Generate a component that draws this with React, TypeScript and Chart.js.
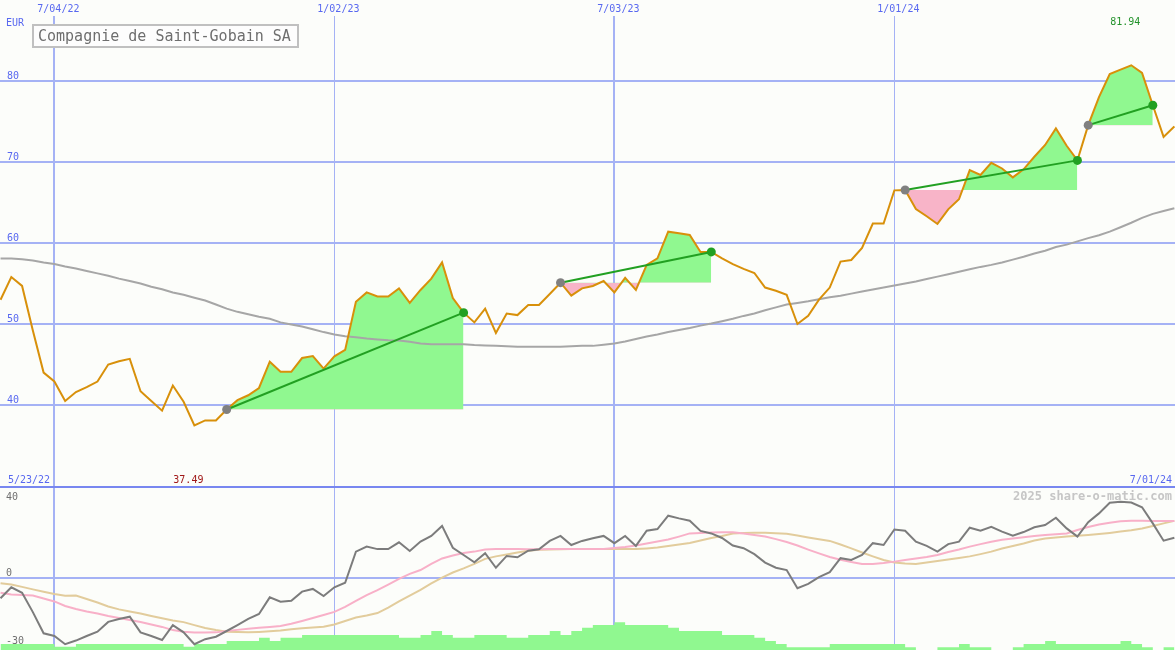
import React, { useEffect, useRef } from 'react';
import { Chart, registerables } from 'chart.js';

Chart.register(...registerables);

// ---------- data ----------
const xTickWeeks = [5, 31, 57, 83];
const xTickLabels = ['7/04/22', '1/02/23', '7/03/23', '1/01/24'];
const priceTicks = [40, 50, 60, 70, 80];
const oscTicks = [40, 0, -30];
const rangeStartLabel = '5/23/22';
const rangeEndLabel = '7/01/24';
const currencyLabel = 'EUR';
const titleText = 'Compagnie de Saint-Gobain SA';
const watermarkText = '2025 share-o-matic.com';
const trendStarts = [21, 52, 84, 101];
const trendEnds = [43, 66, 100, 107];

const price = [
  53.0, 55.8, 54.7, 49.2, 44.0, 42.9, 40.5, 41.6, 42.2, 42.9,
  45.0, 45.4, 45.7, 41.7, 40.5, 39.3, 42.4, 40.4, 37.49, 38.1,
  38.1, 39.45, 40.6, 41.2, 42.1, 45.35, 44.1, 44.1, 45.8, 46.05,
  44.5, 46.0, 46.8, 52.75, 53.9, 53.4, 53.4, 54.4, 52.6, 54.2,
  55.6, 57.6, 53.2, 51.4, 50.2, 51.9, 48.9, 51.3, 51.1, 52.35,
  52.35, 53.7, 55.1, 53.5, 54.4, 54.7, 55.3, 53.9, 55.7, 54.2,
  57.3, 58.1, 61.4, 61.2, 61.0, 58.9, 58.9, 58.1, 57.4, 56.8,
  56.3, 54.5, 54.1, 53.6, 50.0, 51.0, 53.0, 54.5, 57.7, 57.9,
  59.4, 62.4, 62.4, 66.5, 66.55, 64.2, 63.3, 62.35, 64.15, 65.4,
  69.0, 68.4, 69.9, 69.2, 68.1, 69.1, 70.65, 72.1, 74.15, 72.0,
  70.2, 74.55, 78.0, 80.85, 81.4, 81.94, 81.0, 77.0, 73.1, 74.4,
];

const longMA = [
  58.1, 58.1, 58.0, 57.85, 57.6, 57.4, 57.1, 56.85, 56.55, 56.25,
  55.95, 55.6, 55.3, 55.0, 54.6, 54.3, 53.9, 53.6, 53.25, 52.9,
  52.4, 51.9, 51.5, 51.2, 50.9, 50.65, 50.2, 49.95, 49.7, 49.35,
  49.0, 48.7, 48.5, 48.35, 48.2, 48.1, 48.0, 47.95, 47.8, 47.6,
  47.5, 47.5, 47.5, 47.5, 47.4, 47.35, 47.3, 47.25, 47.2, 47.2,
  47.2, 47.2, 47.2, 47.25, 47.3, 47.3, 47.45, 47.6, 47.85, 48.15,
  48.45, 48.7, 49.0, 49.25, 49.5, 49.8, 50.05, 50.35, 50.65, 51.0,
  51.3, 51.7, 52.05, 52.4, 52.6, 52.8, 53.05, 53.3, 53.5, 53.75,
  54.0, 54.25, 54.5, 54.75, 55.0, 55.25, 55.55, 55.85, 56.15, 56.45,
  56.75, 57.05, 57.3, 57.6, 57.95, 58.3, 58.7, 59.05, 59.5, 59.8,
  60.2, 60.6, 60.95, 61.4, 61.95, 62.5, 63.1, 63.6, 63.95, 64.3,
];

const momentum = [
  -8.9, -4.1, -6.5, -15, -24.3, -25.5, -29.1, -27.5, -25.5, -23.6,
  -19.3, -18.0, -17.0, -23.9, -25.5, -27.25, -20.7, -23.9, -29.1, -26.9,
  -25.8, -23.3, -20.7, -18.0, -15.8, -8.5, -10.4, -10.0, -6.0, -4.8,
  -7.9, -4.1, -2.1, 11.6, 13.8, 12.7, 12.7, 15.7, 11.9, 16.0,
  18.5, 22.9, 13.3, 10.1, 6.9, 10.9, 4.5, 9.7, 9.1, 12.0,
  12.6, 16.3, 18.5, 14.5, 16.3, 17.5, 18.5, 15.3, 18.5, 14.1,
  20.8, 21.5, 27.4, 26.2, 25.2, 20.7, 19.6, 17.6, 14.3, 13.1,
  10.5, 6.8, 4.5, 3.5, -4.5, -2.6, 0.4, 2.6, 8.7, 7.9,
  10.1, 15.3, 14.5, 21.3, 20.8, 16.0, 14.1, 11.6, 14.9, 16.0,
  22.1, 20.8, 22.5, 20.4, 18.6, 20.2, 22.3, 23.3, 26.5, 21.8,
  18.2, 24.5, 28.4, 33.1, 33.5, 33.2, 31.1, 24.0, 16.4, 17.7,
];

const momentumFast = [
  -6.5, -7.3, -7.5, -7.7, -9.0, -10.3, -12.3, -13.6, -14.7, -15.6,
  -16.7, -17.6, -18.5, -19.3, -20.4, -21.5, -22.9, -23.6, -24.0, -24.0,
  -23.9, -23.3, -22.8, -22.3, -21.9, -21.5, -21.1, -20.1, -18.9, -17.6,
  -16.3, -14.9, -12.7, -10.1, -7.5, -5.3, -2.9, -0.4, 1.8, 3.5,
  6.2, 8.6, 9.9, 11.0, 11.6, 12.5, 12.7, 12.7, 12.7, 12.6,
  12.6, 12.7, 12.7, 12.7, 12.7, 12.8, 12.8, 13.2, 13.6, 14.3,
  15.2, 16.0, 16.9, 18.2, 19.6, 19.8, 20.0, 20.1, 20.1, 19.6,
  18.9, 18.2, 17.1, 15.8, 14.3, 12.5, 10.8, 9.2, 8.0, 7.0,
  6.2, 6.2, 6.6, 7.2, 7.9, 8.6, 9.2, 10.1, 11.4, 12.5,
  13.8, 14.9, 15.9, 16.8, 17.4, 17.9, 18.5, 18.9, 19.2, 19.6,
  21.1, 22.4, 23.5, 24.3, 24.9, 25.2, 25.2, 25.1, 25.1, 25.1,
];

const momentumSlow = [
  -2.3, -2.9, -3.9, -5.0, -6.0, -7.0, -7.8, -7.7, -9.2, -10.8,
  -12.5, -13.8, -14.7, -15.6, -16.7, -17.7, -18.7, -19.4, -20.7, -22.0,
  -22.9, -23.6, -23.7, -23.9, -23.7, -23.4, -23.1, -22.5, -22.1, -21.8,
  -21.4, -20.4, -18.9, -17.4, -16.5, -15.4, -13.0, -10.3, -7.7, -5.2,
  -2.4, 0.2, 2.4, 4.2, 6.2, 8.4, 9.5, 10.3, 11.2, 12.0,
  12.4, 12.5, 12.6, 12.7, 12.7, 12.7, 12.7, 12.7, 12.7, 12.7,
  13.0, 13.4, 14.1, 14.7, 15.4, 16.5, 17.6, 18.5, 19.6, 19.8,
  19.9, 19.9, 19.7, 19.4, 18.7, 17.8, 17.0, 16.3, 14.7, 13.0,
  11.2, 9.5, 7.9, 6.8, 6.4, 6.2, 6.8, 7.5, 8.1, 8.8,
  9.5, 10.5, 11.6, 13.0, 14.1, 15.2, 16.5, 17.4, 17.8, 18.2,
  18.6, 18.9, 19.3, 19.8, 20.4, 21.0, 21.8, 22.9, 24.0, 25.1,
];

const volume = [
  6, 6, 6, 6, 6, 3.3, 3.3, 6, 6, 6,
  6, 6, 6, 6, 6, 6, 6, 3.3, 6, 6,
  6, 9, 9, 9, 12.3, 9, 12.3, 12.3, 15, 15,
  15, 15, 15, 15, 15, 15, 15, 12.3, 12.3, 15,
  19, 15, 12.3, 12.3, 15, 15, 15, 12.3, 12.3, 15,
  15, 19, 15, 19, 22.3, 25, 25, 27.7, 25, 25,
  25, 25, 22.3, 19, 19, 19, 19, 15, 15, 15,
  12.3, 9, 6, 2.7, 2.7, 2.7, 2.7, 6, 6, 6,
  6, 6, 6, 6, 2.7, 0, 0, 2.7, 2.7, 6,
  2.7, 2.7, 0, 0, 2.7, 6, 6, 9, 6, 6,
  6, 6, 6, 6, 9, 6, 2.7, 0, 2.7, 2.7,
];

// ---------- styles ----------
const FONT = '"DejaVu Sans Mono", monospace';
const BG = '#fcfdfa';
const GRID = '#a5b2f5';
const SEP = '#7887f0';
const BLUE = '#5868f0';
const ORANGE = '#d8900a';
const MA_GRAY = '#a6a6a6';
const FILL_GREEN = '#90f890';
const FILL_PINK = '#f8b4c8';
const TREND_GREEN = '#22a022';
const PIVOT_GRAY = '#808080';
const X_MIN = -0.05;
const X_MAX = 109.06;

const xy = (arr: number[], from = 0, to = arr.length - 1) =>
  arr.slice(from, to + 1).map((v, j) => ({ x: from + j, y: v }));

const gridWidth = (ctx: any) => {
  const v = ctx.tick ? ctx.tick.value : 0;
  const idx = xTickWeeks.indexOf(v);
  return xTickLabels[idx] && xTickLabels[idx].startsWith('7/') ? 2 : 1;
};

export default function App() {
  const topRef = useRef<HTMLCanvasElement>(null);
  const botRef = useRef<HTMLCanvasElement>(null);

  useEffect(() => {
    const minIdx = price.indexOf(Math.min(...price));
    const maxIdx = price.indexOf(Math.max(...price));

    const topText = {
      id: 'topText',
      afterDraw(chart: any) {
        const { ctx } = chart;
        const xs = chart.scales.x;
        const ys = chart.scales.y;
        ctx.save();
        ctx.textBaseline = 'alphabetic';
        ctx.font = `10px ${FONT}`;
        ctx.fillStyle = BLUE;
        ctx.textAlign = 'left';
        priceTicks.forEach((v) => ctx.fillText(String(v), 7, ys.getPixelForValue(v) - 2));
        ctx.fillText(currencyLabel, 6, 26);
        ctx.fillText(rangeStartLabel, 8, 483);
        ctx.textAlign = 'right';
        ctx.fillText(rangeEndLabel, 1172, 483);
        ctx.textAlign = 'center';
        ctx.fillStyle = '#a01818';
        ctx.fillText(price[minIdx].toFixed(2), xs.getPixelForValue(minIdx) - 6, 483);
        ctx.fillStyle = '#22922a';
        ctx.fillText(price[maxIdx].toFixed(2), xs.getPixelForValue(maxIdx) - 6, 25);
        // title box
        ctx.fillStyle = '#fdfdfd';
        ctx.fillRect(33, 25, 265, 22);
        ctx.strokeStyle = '#c0c0c0';
        ctx.lineWidth = 2;
        ctx.strokeRect(33, 25, 265, 22);
        ctx.fillStyle = '#6e6e6e';
        ctx.textAlign = 'left';
        ctx.font = `15px ${FONT}`;
        ctx.fillText(titleText, 38, 41);
        ctx.restore();
      },
    };

    const fillSets = trendStarts.map((s, i) => ({
      data: xy(price, s, trendEnds[i]),
      borderWidth: 0,
      pointRadius: 0,
      fill: { target: { value: price[s] }, above: FILL_GREEN, below: FILL_PINK },
      order: 5,
    }));
    const trendSets = trendStarts.map((s, i) => ({
      data: [
        { x: s, y: price[s] },
        { x: trendEnds[i], y: price[trendEnds[i]] },
      ],
      borderColor: TREND_GREEN,
      borderWidth: 2,
      pointRadius: 0,
      fill: false,
      order: 1,
    }));

    const top = new Chart(topRef.current as HTMLCanvasElement, {
      type: 'line',
      data: {
        datasets: [
          {
            data: trendStarts.map((s) => ({ x: s, y: price[s] })),
            showLine: false,
            pointRadius: 4.5,
            pointBorderWidth: 0,
            pointBackgroundColor: PIVOT_GRAY,
            order: 0,
          },
          {
            data: trendEnds.map((e) => ({ x: e, y: price[e] })),
            showLine: false,
            pointRadius: 4.5,
            pointBorderWidth: 0,
            pointBackgroundColor: TREND_GREEN,
            order: 0,
          },
          ...trendSets,
          {
            data: xy(price),
            borderColor: ORANGE,
            borderWidth: 2,
            pointRadius: 0,
            fill: false,
            order: 2,
          },
          {
            data: xy(longMA),
            borderColor: MA_GRAY,
            borderWidth: 2,
            pointRadius: 0,
            fill: false,
            order: 3,
          },
          ...fillSets,
        ] as any,
      },
      options: {
        responsive: false,
        maintainAspectRatio: false,
        animation: false,
        events: [],
        layout: { padding: 0, autoPadding: false },
        plugins: { legend: { display: false }, tooltip: { enabled: false }, title: { display: false } },
        scales: {
          x: {
            type: 'linear',
            position: 'top',
            min: X_MIN,
            max: X_MAX,
            afterBuildTicks: (s: any) => {
              s.ticks = xTickWeeks.map((v) => ({ value: v }));
            },
            afterFit: (s: any) => {
              s.height = 16;
            },
            ticks: {
              autoSkip: false,
              maxRotation: 0,
              padding: 1,
              labelOffset: 4,
              color: BLUE,
              font: { family: FONT, size: 10 },
              callback: (v: any) => xTickLabels[xTickWeeks.indexOf(Number(v))] ?? '',
            },
            grid: { color: GRID, lineWidth: gridWidth, drawTicks: false },
            border: { display: false },
          },
          y: {
            type: 'linear',
            min: 80 - (487 - 81) / 8.1,
            max: 80 + (81 - 16) / 8.1,
            afterBuildTicks: (s: any) => {
              s.ticks = priceTicks.map((v) => ({ value: v }));
            },
            afterFit: (s: any) => {
              s.width = 0;
            },
            ticks: { display: false },
            grid: { color: GRID, lineWidth: 2, drawTicks: false },
            border: { display: false },
          },
        },
      } as any,
      plugins: [topText],
    });

    const botText = {
      id: 'botText',
      afterDraw(chart: any) {
        const { ctx } = chart;
        const ys = chart.scales.y;
        ctx.save();
        ctx.font = `10px ${FONT}`;
        ctx.fillStyle = '#707070';
        ctx.textAlign = 'left';
        ctx.textBaseline = 'alphabetic';
        oscTicks.forEach((v) => {
          const y = Math.min(Math.max(ys.getPixelForValue(v) - 2, 15), 161);
          ctx.fillText(String(v), 6, y);
        });
        ctx.font = `bold 12px ${FONT}`;
        ctx.fillStyle = '#c6c6c6';
        ctx.textAlign = 'right';
        ctx.fillText(watermarkText, 1172, 15);
        ctx.restore();
      },
    };

    const bot = new Chart(botRef.current as HTMLCanvasElement, {
      type: 'line',
      data: {
        datasets: [
          { data: xy(momentum), borderColor: '#7c7c7c', borderWidth: 2, pointRadius: 0, order: 0 },
          { data: xy(momentumFast), borderColor: '#f8b0c8', borderWidth: 2, pointRadius: 0, order: 1 },
          { data: xy(momentumSlow), borderColor: '#e2cc9c', borderWidth: 2, pointRadius: 0, order: 2 },
          {
            data: xy(volume),
            yAxisID: 'vol',
            stepped: true,
            borderWidth: 0,
            pointRadius: 0,
            fill: 'origin',
            backgroundColor: FILL_GREEN,
            order: 3,
          },
        ] as any,
      },
      options: {
        responsive: false,
        maintainAspectRatio: false,
        animation: false,
        events: [],
        layout: { padding: 0, autoPadding: false },
        plugins: { legend: { display: false }, tooltip: { enabled: false }, title: { display: false } },
        scales: {
          x: {
            type: 'linear',
            position: 'bottom',
            min: X_MIN,
            max: X_MAX,
            afterBuildTicks: (s: any) => {
              s.ticks = xTickWeeks.map((v) => ({ value: v }));
            },
            afterFit: (s: any) => {
              s.height = 0;
            },
            ticks: { display: false },
            grid: { color: GRID, lineWidth: gridWidth, drawTicks: false },
            border: { display: false },
          },
          y: {
            type: 'linear',
            min: -(165 - 93) / 2.275,
            max: 40 + 2 / 2.275,
            afterBuildTicks: (s: any) => {
              s.ticks = [0, 40].map((v) => ({ value: v }));
            },
            afterFit: (s: any) => {
              s.width = 0;
            },
            ticks: { display: false },
            grid: {
              color: (c: any) => (c.tick && c.tick.value === 40 ? SEP : GRID),
              lineWidth: 2,
              drawTicks: false,
            },
            border: { display: false },
          },
          vol: {
            type: 'linear',
            display: false,
            min: 0,
            max: 165,
          },
        },
      } as any,
      plugins: [botText],
    });

    return () => {
      top.destroy();
      bot.destroy();
    };
  }, []);

  return (
    <div
      style={{
        position: 'absolute',
        left: 0,
        top: 0,
        width: 1175,
        height: 650,
        background: BG,
        overflow: 'hidden',
      }}
    >
      <canvas
        ref={topRef}
        width={1175}
        height={487}
        style={{ position: 'absolute', left: 0, top: 0, width: 1175, height: 487 }}
      />
      <canvas
        ref={botRef}
        width={1175}
        height={165}
        style={{ position: 'absolute', left: 0, top: 485, width: 1175, height: 165 }}
      />
    </div>
  );
}
